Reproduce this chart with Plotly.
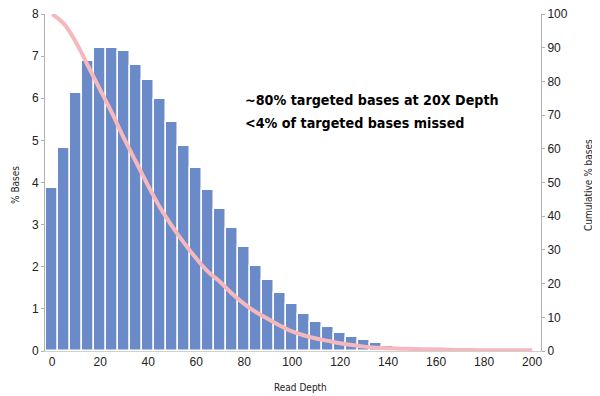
import plotly.graph_objects as go

depth = list(range(0, 170, 5))
pct_bases = [3.87, 4.83, 6.12, 6.89, 7.19, 7.19, 7.11, 6.78, 6.44, 5.98,
             5.43, 4.87, 4.34, 3.82, 3.37, 2.91, 2.46, 2.02, 1.69, 1.37,
             1.12, 0.88, 0.70, 0.56, 0.42, 0.34, 0.25, 0.18, 0.13, 0.10,
             0.07, 0.05, 0.04, 0.03]

cum_depth = list(range(0, 205, 5))
cum_pct = [100, 97, 91.5, 84.5, 77.5, 70.5, 63, 56, 49, 42.5,
           37, 32, 27.5, 23.5, 20.5, 17, 14, 11.5, 9.5, 7.5,
           5.8, 4.6, 3.7, 3.0, 2.3, 1.8, 1.3, 1.0, 0.8, 0.7,
           0.6, 0.5, 0.5, 0.4, 0.3, 0.3, 0.2, 0.2, 0.2, 0.2, 0.2]

x_ticks = list(range(0, 201, 20))

note_lines = ["~80% targeted bases at 20X Depth", "&lt;4% of targeted bases missed"]

# page has an 8px body margin, so the figure is drawn 8px right/down
OFF = 8
W, H = 600 - OFF, 396 - OFF
ML, MT = 45 - OFF, 14 - OFF
MR = W - (541 - OFF)
MB = H - (351 - OFF)
plot_w = W - ML - MR
plot_h = H - MT - MB


def px(xp):
    return (xp - OFF - ML) / plot_w


def py(yp):
    return 1 - (yp - OFF - MT) / plot_h


fig = go.Figure()
fig.add_trace(go.Bar(
    x=depth, y=pct_bases, width=5,
    marker=dict(color="#6a8bc8", line=dict(color="white", width=1.5)),
    showlegend=False,
))
fig.add_trace(go.Scatter(
    x=cum_depth, y=cum_pct, yaxis="y2", mode="lines",
    line=dict(color="#f7b8bd", width=4, shape="spline", smoothing=1.0),
    showlegend=False,
))

font_narrow = "DejaVu Sans Condensed, Liberation Sans Narrow, Arial Narrow, sans-serif"
axis_common = dict(showgrid=False, zeroline=False, automargin=False,
                   ticklabeloverflow="allow",
                   tickfont=dict(size=12, color="#222"))
fig.update_layout(
    width=W, height=H,
    margin=dict(l=ML, r=MR, t=MT, b=MB),
    paper_bgcolor="white", plot_bgcolor="white",
    font=dict(family="Liberation Sans, Arial", size=12, color="#333333"),
    xaxis=dict(range=[-3, 203.7], tickvals=x_ticks, showline=True, linecolor="#d0d0d0",
               linewidth=1, ticks="", **axis_common),
    yaxis=dict(range=[0, 8], dtick=1, showline=True, linecolor="#b0b0b0", linewidth=1,
               ticks="outside", ticklen=3, tickcolor="#b0b0b0", **axis_common),
    yaxis2=dict(range=[0, 100], dtick=10, overlaying="y", side="right", showline=True,
                linecolor="#b0b0b0", linewidth=1, ticks="outside", ticklen=3,
                tickcolor="#b0b0b0", **axis_common),
    bargap=0,
)

title_font = dict(family=font_narrow, size=10, color="#222")
fig.add_annotation(x=px(300), y=py(388), xref="paper", yref="paper", showarrow=False,
                   text="Read Depth", font=title_font, xanchor="center", yanchor="middle")
fig.add_annotation(x=px(15), y=py(185), xref="paper", yref="paper", showarrow=False,
                   text="% Bases", font=title_font, textangle=-90,
                   xanchor="center", yanchor="middle")
fig.add_annotation(x=px(588), y=py(185), xref="paper", yref="paper", showarrow=False,
                   text="Cumulative % bases", font=title_font, textangle=-90,
                   xanchor="center", yanchor="middle")

note_font = dict(family=font_narrow, size=14.2, color="black")
for i, line in enumerate(note_lines):
    fig.add_annotation(x=px(243), y=py(100 + 23 * i), xref="paper", yref="paper",
                       showarrow=False, text="<b>" + line + "</b>", font=note_font,
                       xanchor="left", yanchor="middle", align="left")

fig.write_html("out.html")
